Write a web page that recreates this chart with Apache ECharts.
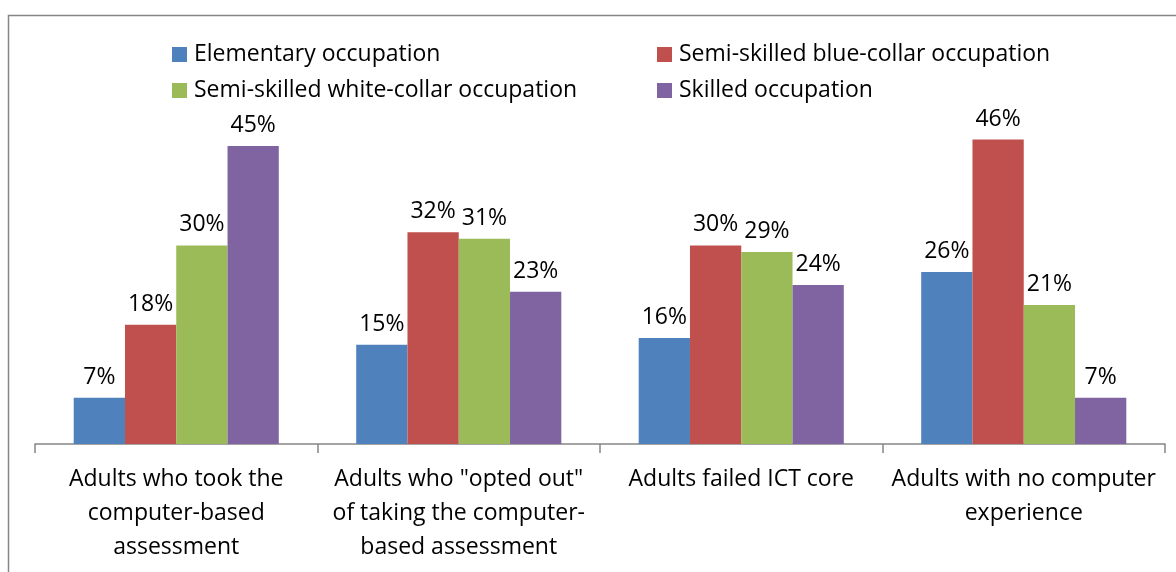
<!DOCTYPE html>
<html>
<head>
<meta charset="utf-8">
<script src="https://cdn.jsdelivr.net/npm/echarts@6/dist/echarts.min.js"></script>
<style>
  html, body { margin: 0; padding: 0; background: #fff; }
  #chart { width: 1176px; height: 572px; }
</style>
</head>
<body>
<div id="chart"></div>
<script>
var categories = [
    'Adults who took the\ncomputer-based\nassessment',
    'Adults who "opted out"\nof taking the computer-\nbased assessment',
    'Adults failed ICT core',
    'Adults with no computer\nexperience'
];
var seriesNames = [
    'Elementary occupation',
    'Semi-skilled blue-collar occupation',
    'Semi-skilled white-collar occupation',
    'Skilled occupation'
];
var elementary = [7, 15, 16, 26];
var blueCollar = [18, 32, 30, 46];
var whiteCollar = [30, 31, 29, 21];
var skilled = [45, 23, 24, 7];

var colors = ['#4F81BD', '#C0504D', '#9BBB59', '#8064A2'];
var font = '"Open Sans", "Noto Sans", sans-serif';

function makeSeries(name, data) {
    return {
        name: name,
        type: 'bar',
        data: data,
        barGap: '0%',
        barCategoryGap: '27.4%',
        label: {
            show: true,
            position: 'top',
            distance: 9,
            formatter: '{c}%',
            color: '#000',
            fontFamily: font,
            fontSize: 23
        }
    };
}

function makeLegend(name, left, top) {
    return {
        data: [name],
        left: left,
        top: top,
        itemWidth: 15,
        itemHeight: 15,
        icon: 'rect',
        padding: 0,
        textStyle: {
            color: '#000',
            fontFamily: font,
            fontSize: 23,
            padding: [0, 0, 0, 2]
        }
    };
}

var chart = echarts.init(document.getElementById('chart'));
chart.setOption({
    animation: false,
    color: colors,
    graphic: [{
        type: 'rect',
        shape: { x: 8.5, y: 15.5, width: 1300, height: 700 },
        style: { fill: 'none', stroke: '#868686', lineWidth: 1.5 },
        silent: true
    }],
    legend: [
        makeLegend(seriesNames[0], 172, 43),
        makeLegend(seriesNames[1], 657, 43),
        makeLegend(seriesNames[2], 172, 79),
        makeLegend(seriesNames[3], 657, 79)
    ],
    grid: { left: 35, right: 11, top: 113, bottom: 128 },
    xAxis: {
        type: 'category',
        data: categories,
        axisLine: { lineStyle: { color: '#868686', width: 1.5 } },
        axisTick: { show: true, length: 9, lineStyle: { color: '#868686', width: 1.5 } },
        axisLabel: {
            interval: 0,
            margin: 18,
            color: '#000',
            fontFamily: font,
            fontSize: 23,
            lineHeight: 34,
            align: 'center'
        }
    },
    yAxis: {
        type: 'value',
        min: 0,
        max: 50,
        show: false,
        splitLine: { show: false }
    },
    series: [
        makeSeries(seriesNames[0], elementary),
        makeSeries(seriesNames[1], blueCollar),
        makeSeries(seriesNames[2], whiteCollar),
        makeSeries(seriesNames[3], skilled)
    ]
});
</script>
</body>
</html>
